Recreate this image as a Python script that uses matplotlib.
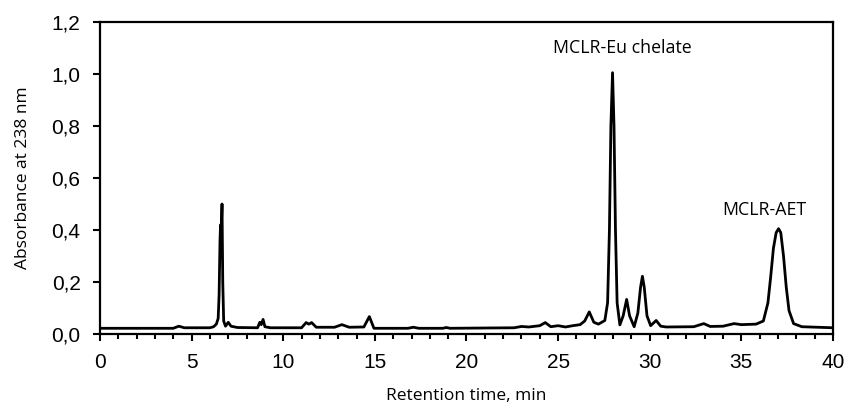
import matplotlib
matplotlib.use("Agg")
import matplotlib.pyplot as plt
from matplotlib.ticker import MultipleLocator, FuncFormatter

# chromatogram trace (retention time, min / absorbance)
time_min = [0, 4.0, 4.3, 4.6, 6.0, 6.2, 6.35, 6.45, 6.5, 6.55, 6.58, 6.61, 6.66, 6.70, 6.75, 6.85,
            7.0, 7.15, 7.5, 8.6, 8.72, 8.8, 8.9, 9.0, 9.3, 11.0, 11.25, 11.4, 11.55, 11.8,
            12.8, 13.2, 13.6, 14.4, 14.7, 14.95, 16.8, 17.1, 17.4, 18.7, 18.9, 19.1,
            22.6, 23.0, 23.4, 24.0, 24.3, 24.6, 25.0, 25.4, 25.8, 26.2, 26.45, 26.7, 26.95,
            27.2, 27.55, 27.7, 27.8, 27.88, 27.97, 28.05, 28.13, 28.22, 28.37, 28.55, 28.74,
            28.9, 29.15, 29.35, 29.5, 29.6, 29.7, 29.85, 30.05, 30.35, 30.6, 30.9, 32.4,
            32.95, 33.3, 34.0, 34.6, 35.0, 35.8, 36.2, 36.45, 36.6, 36.75, 36.9, 37.03,
            37.15, 37.3, 37.45, 37.6, 37.85, 38.3, 40]
absorb = [0.022, 0.022, 0.030, 0.024, 0.024, 0.028, 0.038, 0.06, 0.15, 0.36, 0.42, 0.38, 0.50, 0.20, 0.05, 0.03,
          0.045, 0.03, 0.025, 0.024, 0.045, 0.036, 0.056, 0.028, 0.024, 0.024, 0.044, 0.038, 0.044, 0.026,
          0.026, 0.036, 0.026, 0.027, 0.067, 0.022, 0.022, 0.026, 0.022, 0.022, 0.025, 0.022,
          0.024, 0.029, 0.027, 0.032, 0.044, 0.028, 0.032, 0.027, 0.032, 0.036, 0.05, 0.085, 0.045,
          0.038, 0.052, 0.12, 0.40, 0.80, 1.005, 0.80, 0.40, 0.12, 0.035, 0.07, 0.133,
          0.07, 0.028, 0.08, 0.18, 0.222, 0.18, 0.07, 0.032, 0.052, 0.03, 0.027, 0.028,
          0.04, 0.029, 0.03, 0.04, 0.036, 0.038, 0.05, 0.12, 0.22, 0.33, 0.39, 0.405,
          0.39, 0.30, 0.18, 0.09, 0.04, 0.028, 0.024]

peak_labels = ["MCLR-Eu chelate", "MCLR-AET"]
label_x = [28.5, 36.26]
label_y = [1.10, 0.476]

fig = plt.figure(figsize=(8.48, 4.03), dpi=100)
ax = fig.add_axes([0.1179, 0.1712, 0.8644, 0.7742])
ax.plot(time_min, absorb, color="black", lw=2.0, solid_joinstyle="round")
for s, x, y in zip(peak_labels, label_x, label_y):
    ax.text(x, y, s, ha="center", va="center", fontsize=12.8, family="Open Sans")

ax.set_xlim(0, 40); ax.set_ylim(0, 1.2)
ax.xaxis.set_major_locator(MultipleLocator(5)); ax.xaxis.set_minor_locator(MultipleLocator(1))
ax.yaxis.set_major_locator(MultipleLocator(0.2))
ax.yaxis.set_major_formatter(FuncFormatter(lambda v, p: f"{v:.1f}".replace(".", ",")))
ax.tick_params(axis="both", which="major", direction="out", width=1.5, length=5,
               labelsize=15, labelfontfamily="Liberation Sans", pad=9)
ax.tick_params(axis="x", which="minor", direction="out", width=1.5, length=3.5)
for sp in ax.spines.values():
    sp.set_linewidth(1.6)
ax.set_xlabel("Retention time, min", fontsize=12.5, family="Open Sans", labelpad=11)
ax.set_ylabel("Absorbance at 238 nm", fontsize=12.5, family="Open Sans", labelpad=15)
fig.savefig("out.png", dpi=100)
